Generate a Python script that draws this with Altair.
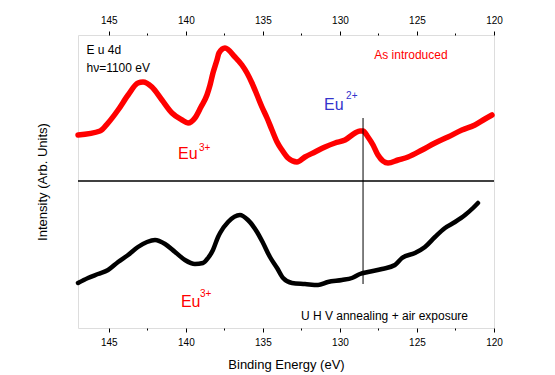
import altair as alt
import pandas as pd

# ---- data (binding energy eV, intensity arb. units) ----
top_energy = [147.0, 145.57, 145.05, 144.40, 143.75, 143.11, 142.78, 142.20, 141.55, 140.90,
              140.25, 139.86, 139.41, 139.02, 138.63, 138.43, 138.24, 137.98, 137.85, 137.46,
              136.81, 136.36, 136.03, 135.71, 135.38, 135.06, 134.73, 134.41, 134.08, 133.76,
              133.37, 132.79, 132.27, 131.62, 130.97, 130.32, 129.67, 129.02, 128.70, 128.50,
              128.18, 127.85, 127.53, 126.88, 126.23, 125.58, 124.67, 123.83, 122.99, 122.08,
              121.24, 120.59, 120.13]
top_intensity = [193, 197, 205, 218, 233, 245, 246, 241, 228, 215,
                 208, 205, 210, 221, 233, 243, 255, 268, 275, 280,
                 271, 263, 255, 245, 233, 221, 210, 198, 186, 178,
                 170, 166, 171, 176, 181, 185, 188, 195, 197, 197,
                 191, 183, 173, 165, 168, 171, 178, 185, 191, 198,
                 203, 209, 213]

bot_energy = [147.0, 146.35, 145.70, 145.05, 144.40, 143.75, 143.11, 142.52, 142.00, 141.35,
              140.70, 140.06, 139.41, 138.89, 138.56, 138.24, 137.91, 137.78, 137.26, 136.49,
              135.97, 135.38, 134.99, 134.54, 134.08, 133.69, 133.11, 132.27, 131.42, 130.78,
              129.87, 129.22, 128.70, 128.18, 127.27, 126.43, 125.97, 125.13, 124.48, 123.83,
              123.18, 122.53, 121.88, 121.36, 121.04]
bot_intensity = [45, 50, 54, 58, 66, 73, 81, 86, 88, 84,
                 76, 68, 64, 65, 70, 78, 91, 95, 106, 113,
                 108, 96, 85, 71, 60, 50, 45, 44, 43, 46,
                 48, 50, 54, 56, 59, 63, 70, 75, 81, 91,
                 100, 106, 113, 120, 125]

tick_values = [145, 142.5, 140, 137.5, 135, 132.5, 130, 127.5, 125, 122.5, 120]
divider_level = [147]
marker_energy = [128.5]
marker_range = [44, 210]

FONT = "Liberation Sans"
RED = "#ff0000"
BLUE = "#3333cc"

top_df = pd.DataFrame({"E": top_energy, "I": top_intensity})
bot_df = pd.DataFrame({"E": bot_energy, "I": bot_intensity})

xscale = alt.Scale(domain=[120, 147], reverse=True, nice=False, zero=False)
yscale = alt.Scale(domain=[0, 293], nice=False, zero=False)

tick_size = {"condition": {"test": "datum.value % 5 === 0", "value": 4}, "value": 2}
label_expr = "datum.value % 5 === 0 ? datum.label : ''"

bottom_axis = alt.Axis(values=tick_values, labelExpr=label_expr, tickSize=tick_size,
                       tickColor="black", domain=False, grid=False, labelOverlap=False,
                       labelFlush=False, labelFont=FONT, labelFontSize=10, labelColor="black",
                       labelPadding=5, title="Binding Energy (eV)", titleFont=FONT,
                       titleFontSize=13, titleFontWeight="normal", titleColor="black",
                       titlePadding=11)
top_axis = alt.Axis(values=tick_values, labelExpr=label_expr, tickSize=tick_size, orient="top",
                    tickColor="black", domain=False, grid=False, labelOverlap=False,
                    labelFlush=False, labelFont=FONT, labelFontSize=10, labelColor="black",
                    labelPadding=6, title=None)
y_axis = alt.Axis(labels=False, ticks=False, domain=False, grid=False,
                  title="Intensity (Arb. Units)", titleFont=FONT, titleFontSize=13,
                  titleFontWeight="normal", titleColor="black", titlePadding=29)

top_line = alt.Chart(top_df).mark_line(color=RED, strokeWidth=5.5, strokeCap="round",
                                       strokeJoin="round", interpolate="monotone").encode(
    x=alt.X("E:Q", scale=xscale, axis=bottom_axis),
    y=alt.Y("I:Q", scale=yscale, axis=y_axis),
)
bot_line = alt.Chart(bot_df).mark_line(color="black", strokeWidth=4.5, strokeCap="round",
                                       strokeJoin="round", interpolate="monotone").encode(
    x=alt.X("E:Q", scale=xscale, axis=top_axis),
    y=alt.Y("I:Q", scale=yscale, axis=None),
)

divider = alt.Chart(pd.DataFrame({"I": divider_level})).mark_rule(
    color="black", strokeWidth=1.5).encode(y=alt.Y("I:Q", scale=yscale, axis=None))

vline = alt.Chart(pd.DataFrame({"E": marker_energy, "I": [marker_range[0]],
                                "I2": [marker_range[1]]})).mark_rule(
    color="black", strokeWidth=1).encode(
    x=alt.X("E:Q", scale=xscale, axis=None),
    y=alt.Y("I:Q", scale=yscale, axis=None),
    y2="I2:Q",
)


def label(text, e, i, color="black", size=12, baseline="middle", align="left"):
    df = pd.DataFrame({"E": [e], "I": [i], "t": [text]})
    return alt.Chart(df).mark_text(font=FONT, fontSize=size, color=color, align=align,
                                   baseline=baseline).encode(
        x=alt.X("E:Q", scale=xscale, axis=None),
        y=alt.Y("I:Q", scale=yscale, axis=None),
        text="t:N",
    )


texts = [
    label("E u  4d", 146.45, 278),
    label("hν=1100  eV", 146.45, 260),
    label("As  introduced", 125.39, 273, color=RED, align="center"),
    label("Eu", 131.03, 218, color=BLUE, size=16, baseline="alphabetic"),
    label("2+", 129.6, 229, color=BLUE, size=10, baseline="alphabetic"),
    label("Eu", 140.51, 169, color=RED, size=16, baseline="alphabetic"),
    label("3+", 139.15, 177, color=RED, size=10, baseline="alphabetic"),
    label("Eu", 140.32, 21, color=RED, size=16, baseline="alphabetic"),
    label("3+", 139.08, 31, color=RED, size=10, baseline="alphabetic"),
    label("U H V  annealing  +  air exposure", 127.11, 12, align="center"),
]

chart = alt.layer(top_line, bot_line, divider, vline, *texts).resolve_axis(
    x="independent", y="independent"
).properties(
    width=416, height=293,
    autosize=alt.AutoSizeParams(type="none"),
    padding={"left": 70, "top": 27, "right": 53, "bottom": 47},
).configure_view(stroke="black", strokeWidth=1.3).configure(background="white")

chart.save("out.html", embed_options={"renderer": "svg", "actions": False})
